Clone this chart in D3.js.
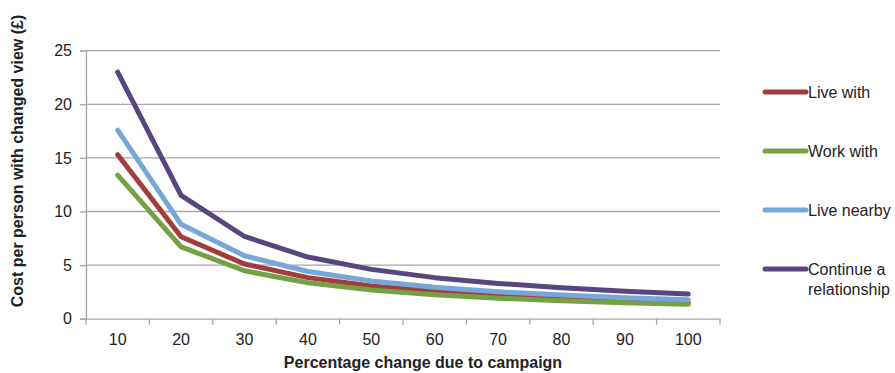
<!DOCTYPE html>
<html><head><meta charset="utf-8">
<script src="https://cdn.jsdelivr.net/npm/d3@7"></script>
<style>body{margin:0;background:#fff;} text{font-family:"Liberation Sans",Arial,sans-serif;}</style>
</head><body>
<svg id="c" width="895" height="373"></svg>
<script>
const categories = [10,20,30,40,50,60,70,80,90,100];
const liveWith = [15.3,7.65,5.1,3.83,3.06,2.55,2.19,1.91,1.7,1.53];
const workWith = [13.4,6.7,4.47,3.35,2.68,2.23,1.91,1.68,1.49,1.34];
const liveNearby = [17.6,8.8,5.87,4.4,3.52,2.93,2.51,2.2,1.96,1.76];
const continueRel = [23.0,11.5,7.67,5.75,4.6,3.83,3.29,2.88,2.56,2.3];
const seriesNames = ["Live with","Work with","Live nearby","Continue a relationship"];
const seriesColors = ["#a33d3b","#76a045","#77a7d8","#584680"];
const yTicks = [0,5,10,15,20,25];
const series = [liveWith, workWith, liveNearby, continueRel];

(function(){
const svg = d3.select("#c");
const pL = 86, pR = 720, pT = 50.7, pB = 318.7;
const x = d3.scaleBand().domain(categories).range([pL,pR]);
const y = d3.scaleLinear().domain([0,25]).range([pB,pT]);
const grid = "#a6a6a6";
const fs = 16;

svg.append("g").selectAll("line").data(yTicks.filter(d=>d>0)).join("line")
  .attr("x1",pL).attr("x2",pR).attr("y1",d=>y(d)).attr("y2",d=>y(d))
  .attr("stroke",grid).attr("stroke-width",1.3);

const ya = svg.append("g").attr("transform",`translate(${pL},0)`)
  .call(d3.axisLeft(y).tickValues(yTicks).tickSize(6).tickPadding(8));
ya.select(".domain").attr("stroke",grid).attr("stroke-width",1.3);
ya.selectAll(".tick line").attr("stroke",grid).attr("stroke-width",1.3);
ya.selectAll("text").attr("font-size",fs).attr("fill","#222");

const xa = svg.append("g").attr("transform",`translate(0,${pB})`)
  .call(d3.axisBottom(x).tickSize(0).tickPadding(15).tickSizeOuter(0));
xa.select(".domain").attr("stroke",grid).attr("stroke-width",1.3);
xa.selectAll("text").attr("font-size",fs).attr("fill","#222");
const bounds = categories.map(c=>x(c)).concat([pR]);
svg.append("g").selectAll("line").data(bounds).join("line")
  .attr("x1",d=>d).attr("x2",d=>d).attr("y1",pB).attr("y2",pB+6)
  .attr("stroke",grid).attr("stroke-width",1.3);

const line = d3.line().x((d,i)=>x(categories[i])+x.bandwidth()/2).y(d=>y(d));
series.forEach((s,k)=>{
  svg.append("path").datum(s).attr("d",line).attr("fill","none")
    .attr("stroke",seriesColors[k]).attr("stroke-width",5)
    .attr("stroke-linecap","round").attr("stroke-linejoin","round");
});

svg.append("text").attr("transform","translate(23,161) rotate(-90)")
  .attr("text-anchor","middle").attr("font-size",fs).attr("font-weight","bold").attr("fill","#222")
  .text("Cost per person with changed view (£)");
svg.append("text").attr("x",423).attr("y",368).attr("text-anchor","middle")
  .attr("font-size",fs).attr("font-weight","bold").attr("fill","#222")
  .text("Percentage change due to campaign");

const legY = [92,151,210,269];
seriesNames.forEach((n,k)=>{
  const g = svg.append("g");
  g.append("line").attr("x1",765).attr("x2",806).attr("y1",legY[k]).attr("y2",legY[k])
    .attr("stroke",seriesColors[k]).attr("stroke-width",5).attr("stroke-linecap","round");
  const t = g.append("text").attr("x",808).attr("y",legY[k]+5.5).attr("font-size",fs).attr("fill","#222");
  if (n === "Continue a relationship") {
    t.append("tspan").attr("x",808).text("Continue a");
    t.append("tspan").attr("x",808).attr("dy",20).text("relationship");
  } else t.text(n);
});
})();
</script>
</body></html>
